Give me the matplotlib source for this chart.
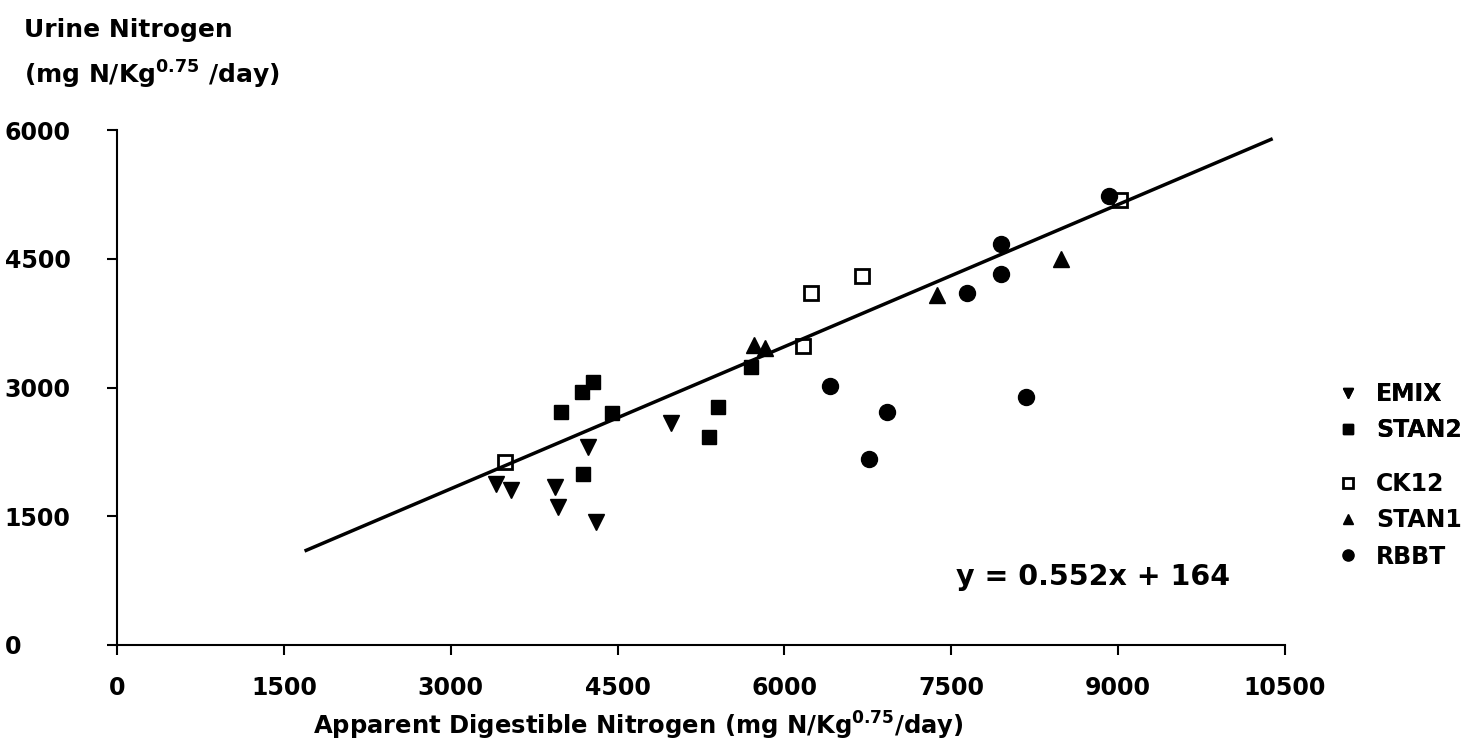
import matplotlib
matplotlib.use("Agg")
import matplotlib.pyplot as plt
import numpy as np

plt.rcParams['font.family'] = ['DejaVu Sans']
plt.rcParams['font.weight'] = 'bold'

# du lieu doc tu hinh
emix_x = [3407, 3543, 3939, 3966, 4237, 4309, 4976]
emix_y = [1876, 1806, 1841, 1608, 2307, 1433, 2586]

stan2_x = [3993, 4183, 4282, 4453, 4192, 5318, 5399, 5697]
stan2_y = [2714, 2947, 3064, 2703, 1992, 2423, 2773, 3239]

ck12_x = [3488, 6166, 6238, 6697, 9014]
ck12_y = [2132, 3483, 4101, 4299, 5184]

stan1_x = [5724, 5823, 7373, 8482]
stan1_y = [3495, 3460, 4078, 4497]

rbbt_x = [6409, 6923, 6760, 7644, 7950, 7950, 8915, 8176]
rbbt_y = [3017, 2714, 2167, 4101, 4322, 4672, 5231, 2889]

slope, intercept = 0.552, 164
line_x = [1700, 10375]

xticks = [0, 1500, 3000, 4500, 6000, 7500, 9000, 10500]
yticks = [0, 1500, 3000, 4500, 6000]

fig = plt.figure(figsize=(14.78, 7.52), dpi=100)
ax = fig.add_axes([0.0792, 0.1423, 0.7902, 0.6848])

ax.plot(emix_x, emix_y, 'v', color='black', markersize=11, linestyle='none', label='EMIX')
ax.plot(stan2_x, stan2_y, 's', color='black', markersize=9.5, linestyle='none', label='STAN2')
ax.plot(ck12_x, ck12_y, 's', mfc='white', mec='black', mew=2, markersize=9.5, linestyle='none', label='CK12')
ax.plot(stan1_x, stan1_y, '^', color='black', markersize=11, linestyle='none', label='STAN1')
ax.plot(rbbt_x, rbbt_y, 'o', color='black', markersize=11.5, linestyle='none', label='RBBT')

lx = np.array(line_x)
ax.plot(lx, slope * lx + intercept, color='black', lw=2.5)

ax.text(7545, 792, 'y = 0.552x + 164', fontsize=20.5, fontweight='bold', va='center', ha='left')

ax.set_xlim(0, 10500)
ax.set_ylim(0, 6000)
ax.set_xticks(xticks)
ax.set_yticks(yticks)
ax.tick_params(labelsize=17, width=1.5, length=7, direction='out')
ax.tick_params(axis='x', pad=15)
ax.tick_params(axis='y', pad=74)
for lab in ax.get_xticklabels() + ax.get_yticklabels():
    lab.set_fontweight('bold')
for lab in ax.get_yticklabels():
    lab.set_horizontalalignment('left')
ax.spines['top'].set_visible(False)
ax.spines['right'].set_visible(False)
ax.spines['left'].set_linewidth(1.5)
ax.spines['bottom'].set_linewidth(1.5)

fig.text(0.016, 0.96, 'Urine Nitrogen', fontsize=18, fontweight='bold', va='center')
fig.text(0.016, 0.90, r'(mg N/Kg$^{\mathbf{0.75}}$ /day)', fontsize=18, fontweight='bold', va='center')
fig.text(0.432, 0.035, r'Apparent Digestible Nitrogen (mg N/Kg$^{\mathbf{0.75}}$/day)',
         fontsize=17.5, fontweight='bold', ha='center', va='center')

# chu giai chia thanh hai nhom nhu hinh goc
h, l = ax.get_legend_handles_labels()
leg1 = fig.legend(h[:2], l[:2], loc='upper left', bbox_to_anchor=(0.8895, 0.5205),
                  frameon=False, fontsize=17, markerscale=0.7, handlelength=1.0,
                  handletextpad=0.7, labelspacing=0.52)
fig.legend(h[2:], l[2:], loc='upper left', bbox_to_anchor=(0.8895, 0.4005),
           frameon=False, fontsize=17, markerscale=0.7, handlelength=1.0,
           handletextpad=0.7, labelspacing=0.52)
fig.add_artist(leg1)

fig.savefig('out.png', dpi=100)
